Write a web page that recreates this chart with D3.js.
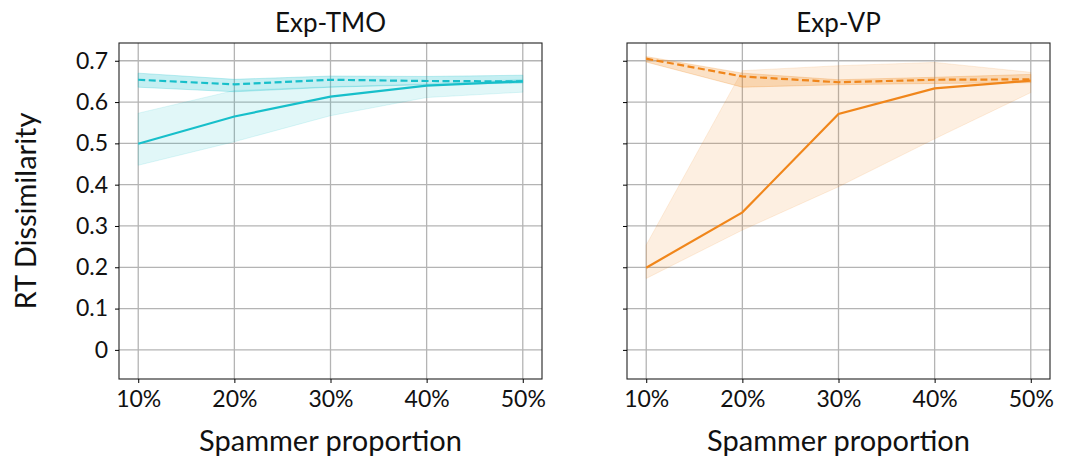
<!DOCTYPE html>
<html><head><meta charset="utf-8">
<script src="https://cdn.jsdelivr.net/npm/d3@7"></script>
<style>body{margin:0;background:#fff}svg text{font-family:Lato,"Open Sans",sans-serif;fill:#111}</style>
</head><body><svg id="c" width="1070" height="464"></svg>
<script>
const categories = [10, 20, 30, 40, 50];
const xTickLabels = ["10%", "20%", "30%", "40%", "50%"];
const yTicks = [0, 0.1, 0.2, 0.3, 0.4, 0.5, 0.6, 0.7];
const yTickLabels = ["0", "0.1", "0.2", "0.3", "0.4", "0.5", "0.6", "0.7"];
const titles = ["Exp-TMO", "Exp-VP"];

// Exp-TMO
const tmoDashed = [0.654, 0.643, 0.654, 0.651, 0.650];
const tmoDashedLo = [0.636, 0.625, 0.636, 0.642, 0.646];
const tmoDashedHi = [0.670, 0.655, 0.663, 0.662, 0.665];
const tmoSolid = [0.499, 0.565, 0.613, 0.640, 0.650];
const tmoSolidLo = [0.447, 0.504, 0.567, 0.611, 0.624];
const tmoSolidHi = [0.573, 0.628, 0.637, 0.644, 0.655];
// Exp-VP
const vpDashed = [0.705, 0.662, 0.648, 0.654, 0.655];
const vpDashedLo = [0.697, 0.636, 0.642, 0.645, 0.647];
const vpDashedHi = [0.710, 0.670, 0.654, 0.660, 0.667];
const vpSolid = [0.199, 0.333, 0.571, 0.633, 0.652];
const vpSolidLo = [0.173, 0.290, 0.395, 0.511, 0.623];
const vpSolidHi = [0.254, 0.676, 0.688, 0.696, 0.672];

const colors = ["#17bfca", "#f0861b"];

const svg = d3.select("#c");
const panels = [
  {x0: 119, x1: 542, color: colors[0], title: titles[0], dashed: [tmoDashed, tmoDashedLo, tmoDashedHi], solid: [tmoSolid, tmoSolidLo, tmoSolidHi], labels: true},
  {x0: 627, x1: 1050, color: colors[1], title: titles[1], dashed: [vpDashed, vpDashedLo, vpDashedHi], solid: [vpSolid, vpSolidLo, vpSolidHi], labels: false}
];
const yTop = 43, yBot = 379;
const y = d3.scaleLinear().domain([-0.0705, 0.743]).range([yBot, yTop]);

panels.forEach(p => {
  const x = d3.scaleLinear().domain([8, 52]).range([p.x0, p.x1]);
  const g = svg.append("g");
  // grid
  g.selectAll(".gx").data(categories).enter().append("line")
    .attr("x1", d => x(d)).attr("x2", d => x(d)).attr("y1", yTop).attr("y2", yBot)
    .attr("stroke", "#b4b4b4").attr("stroke-width", 1.3);
  g.selectAll(".gy").data(yTicks).enter().append("line")
    .attr("x1", p.x0).attr("x2", p.x1).attr("y1", d => y(d)).attr("y2", d => y(d))
    .attr("stroke", "#b4b4b4").attr("stroke-width", 1.3);

  const area = d3.area().x((d, i) => x(categories[i])).y0(d => y(d[0])).y1(d => y(d[1]));
  const line = d3.line().x((d, i) => x(categories[i])).y(d => y(d));
  const zip = (lo, hi) => lo.map((v, i) => [v, hi[i]]);

  g.append("path").attr("d", area(zip(p.solid[1], p.solid[2])))
    .attr("fill", p.color).attr("fill-opacity", 0.13).attr("stroke", p.color).attr("stroke-opacity", 0.13);
  g.append("path").attr("d", area(zip(p.dashed[1], p.dashed[2])))
    .attr("fill", p.color).attr("fill-opacity", 0.25).attr("stroke", p.color).attr("stroke-opacity", 0.25);
  g.append("path").attr("d", line(p.solid[0])).attr("fill", "none")
    .attr("stroke", p.color).attr("stroke-width", 2.2);
  g.append("path").attr("d", line(p.dashed[0])).attr("fill", "none")
    .attr("stroke", p.color).attr("stroke-width", 2.2).attr("stroke-dasharray", "7,3.5");

  // frame
  g.append("rect").attr("x", p.x0).attr("y", yTop).attr("width", p.x1 - p.x0).attr("height", yBot - yTop)
    .attr("fill", "none").attr("stroke", "#222").attr("stroke-width", 1.1);

  // axes
  const xa = d3.axisBottom(x).tickValues(categories).tickFormat((d, i) => xTickLabels[i]).tickSize(4).tickPadding(8);
  const xg = g.append("g").attr("transform", `translate(0,${yBot})`).call(xa);
  xg.select(".domain").remove();
  xg.selectAll("text").attr("font-size", 23).style("fill", "#111");
  const ya = d3.axisLeft(y).tickValues(yTicks).tickFormat((d, i) => p.labels ? yTickLabels[i] : "").tickSize(4).tickPadding(7);
  const yg = g.append("g").attr("transform", `translate(${p.x0},0)`).call(ya);
  yg.select(".domain").remove();
  yg.selectAll("text").attr("font-size", 23).attr("dy", "0.32em").style("fill", "#111");

  g.append("text").attr("x", (p.x0 + p.x1) / 2).attr("y", 451).attr("text-anchor", "middle")
    .attr("font-size", 29).text("Spammer proportion");
  g.append("text").attr("x", (p.x0 + p.x1) / 2).attr("y", 32).attr("text-anchor", "middle")
    .attr("font-size", 26).text(p.title);
});
svg.append("text").attr("transform", `translate(36,${(yTop + yBot) / 2}) rotate(-90)`)
  .attr("text-anchor", "middle").attr("font-size", 29).text("RT Dissimilarity");
</script></body></html>
